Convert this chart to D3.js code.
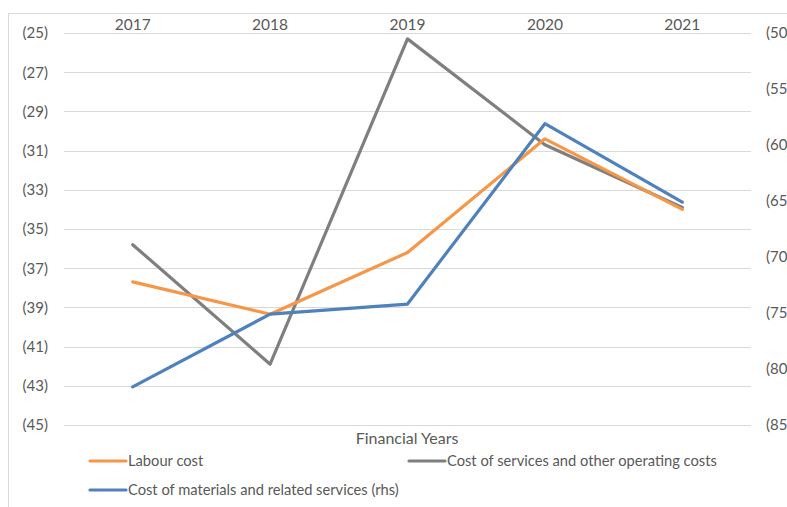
<!DOCTYPE html>
<html><head><meta charset="utf-8">
<script src="https://cdn.jsdelivr.net/npm/d3@7"></script>
<style>body{margin:0;background:#fff;}svg{display:block;}</style>
</head><body>
<script>
const years = ["2017","2018","2019","2020","2021"];
const labourCost = [-37.7, -39.35, -36.2, -30.4, -34.0];
const servicesCost = [-35.8, -41.9, -25.3, -30.7, -33.9];
const materialsCost = [-81.6, -75.1, -74.2, -58.1, -65.1];
const leftTicks = [-25,-27,-29,-31,-33,-35,-37,-39,-41,-43,-45];
const rightTicks = [-50,-55,-60,-65,-70,-75,-80,-85];

const W = 787, H = 507;
const m = {left:64, right:751, top:33, bottom:425};
const font = "Lato, 'Open Sans', sans-serif";
const textColor = "#595959";

const svg = d3.select("body").append("svg").attr("width", W).attr("height", H);
svg.append("rect").attr("x",8.5).attr("y",13.5).attr("width",W).attr("height",H)
  .attr("fill","none").attr("stroke","#d9d9d9");

const x = d3.scaleBand().domain(years).range([m.left, m.right]);
const yL = d3.scaleLinear().domain([-25,-45]).range([m.top, m.bottom]);
const yR = d3.scaleLinear().domain([-50,-85]).range([m.top, m.bottom]);

const fmtL = v => "(" + Math.abs(v) + ")";
const fmtR = v => "(" + Math.abs(v);

// gridlines
svg.append("g").selectAll("line").data(leftTicks).join("line")
  .attr("x1", m.left).attr("x2", m.right)
  .attr("y1", d=>Math.round(yL(d))+0.5).attr("y2", d=>Math.round(yL(d))+0.5)
  .attr("stroke","#d9d9d9").attr("stroke-width",1);

// left axis
const axL = svg.append("g").attr("transform",`translate(${m.left-16},0)`)
  .call(d3.axisLeft(yL).tickValues(leftTicks).tickFormat(fmtL).tickSize(0));
axL.select(".domain").remove();
axL.selectAll("text").attr("font-family",font).attr("font-size",15).attr("fill",textColor).attr("x",0);

// right axis
const axR = svg.append("g").attr("transform",`translate(${m.right+15},0)`)
  .call(d3.axisRight(yR).tickValues(rightTicks).tickFormat(fmtR).tickSize(0));
axR.select(".domain").remove();
axR.selectAll("text").attr("font-family",font).attr("font-size",15).attr("fill",textColor).attr("x",0);

// top category axis
const axT = svg.append("g").attr("transform",`translate(0,${m.top-3})`)
  .call(d3.axisTop(x).tickSize(0));
axT.select(".domain").remove();
axT.selectAll("text").attr("font-family",font).attr("font-size",15.5).attr("fill",textColor).attr("dy",0).attr("y",0);

const cx = d => x(d) + x.bandwidth()/2;

function drawLine(vals, yScale, color){
  const line = d3.line().x((d,i)=>cx(years[i])).y(d=>yScale(d));
  svg.append("path").datum(vals).attr("d", line).attr("fill","none")
    .attr("stroke", color).attr("stroke-width",3.2).attr("stroke-linejoin","round").attr("stroke-linecap","round");
}
const cOrange = "#F79646", cGray = "#7F7F7F", cBlue = "#4F81BD";
drawLine(servicesCost, yL, cGray);
drawLine(labourCost, yL, cOrange);
drawLine(materialsCost, yR, cBlue);

// axis title
svg.append("text").attr("x", 407).attr("y", 444).attr("text-anchor","middle")
  .attr("font-family",font).attr("font-size",16).attr("fill",textColor).text("Financial Years");

// legend
const legend = [
  {name:"Labour cost", color:cOrange, x:90, y:461},
  {name:"Cost of services and other operating costs", color:cGray, x:409, y:461},
  {name:"Cost of materials and related services (rhs)", color:cBlue, x:90, y:490}
];
const lg = svg.append("g").selectAll("g").data(legend).join("g")
  .attr("transform", d=>`translate(${d.x},${d.y})`);
lg.append("line").attr("x1",0).attr("x2",36).attr("y1",0).attr("y2",0)
  .attr("stroke",d=>d.color).attr("stroke-width",3.2).attr("stroke-linecap","round");
lg.append("text").attr("x",38).attr("y",0).attr("dy","0.35em")
  .attr("font-family",font).attr("font-size",14.7).attr("fill",textColor).text(d=>d.name);
</script>
</body></html>
